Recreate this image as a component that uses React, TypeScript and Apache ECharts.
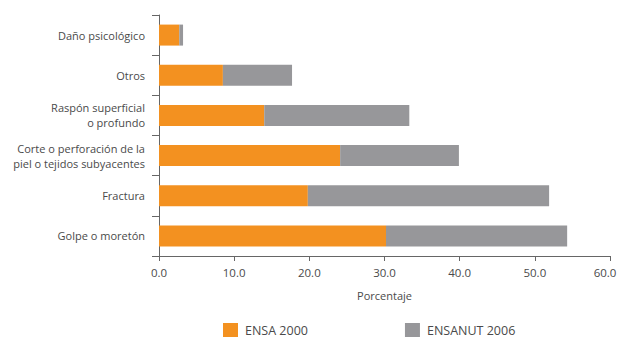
import React, { useEffect, useRef } from "react";
import * as echarts from "echarts";

const categories = [
  "Golpe o moretón",
  "Fractura",
  "Corte o perforación de la\npiel o tejidos subyacentes",
  "Raspón superficial\no profundo",
  "Otros",
  "Daño psicológico",
];
const ensa2000 = [30.2, 19.8, 24.1, 14.0, 8.5, 2.7];
const ensanut2006 = [24.1, 32.1, 15.8, 19.3, 9.2, 0.5];
const seriesNames = ["ENSA 2000", "ENSANUT 2006"];
const xTicks = [0, 10, 20, 30, 40, 50, 60];

const ORANGE = "#F39120";
const GRAY = "#97979A";
const TEXT = "#4a4a4a";
const FONT = "'Open Sans', 'Noto Sans', sans-serif";

export default function App() {
  const ref = useRef<HTMLDivElement>(null);
  useEffect(() => {
    if (!ref.current) return;
    const chart = echarts.init(ref.current, undefined, { renderer: "svg" });
    const xMax = xTicks[xTicks.length - 1];
    chart.setOption({
      animation: false,
      textStyle: { fontFamily: FONT },
      grid: {
        left: 159,
        right: 10,
        top: 15,
        bottom: 92,
        containLabel: false,
        outerBoundsMode: "none",
      },
      legend: {
        data: seriesNames,
        left: 218,
        top: 318,
        icon: "rect",
        itemWidth: 15,
        itemHeight: 14,
        itemGap: 97,
        textStyle: { color: TEXT, fontSize: 12.5, fontFamily: FONT, padding: [0, 0, 0, 2] },
        selectedMode: false,
      },
      xAxis: {
        type: "value",
        min: xTicks[0],
        max: xMax,
        interval: 10,
        name: "Porcentaje",
        nameLocation: "middle",
        nameGap: 34,
        nameTextStyle: { color: TEXT, fontSize: 11, fontFamily: FONT },
        axisLine: { show: true, lineStyle: { color: "#666", width: 1 } },
        axisTick: { show: true, length: 5, lineStyle: { color: "#666" } },
        axisLabel: {
          color: TEXT,
          fontSize: 11.5,
          margin: 10,
          fontFamily: FONT,
          formatter: (v: number) => (v === xMax ? `{last|${v.toFixed(1)}}` : v.toFixed(1)),
          rich: {
            last: { fontSize: 11.5, color: TEXT, fontFamily: FONT, padding: [0, 10, 0, 0] },
          },
        },
        splitLine: { show: false },
      },
      yAxis: {
        type: "category",
        data: categories,
        axisLine: { show: true, lineStyle: { color: "#666", width: 1 } },
        axisTick: { show: true, length: 7, lineStyle: { color: "#666" } },
        axisLabel: {
          color: TEXT,
          fontSize: 11,
          margin: 14,
          lineHeight: 15,
          align: "right",
          fontFamily: FONT,
        },
      },
      series: [
        {
          name: seriesNames[0],
          type: "bar",
          stack: "total",
          data: ensa2000,
          barWidth: 21,
          itemStyle: { color: ORANGE },
        },
        {
          name: seriesNames[1],
          type: "bar",
          stack: "total",
          data: ensanut2006,
          barWidth: 21,
          itemStyle: { color: GRAY },
        },
      ],
    });
    return () => chart.dispose();
  }, []);
  return <div ref={ref} style={{ width: 620, height: 348, position: "absolute", left: 0, top: 0 }} />;
}
